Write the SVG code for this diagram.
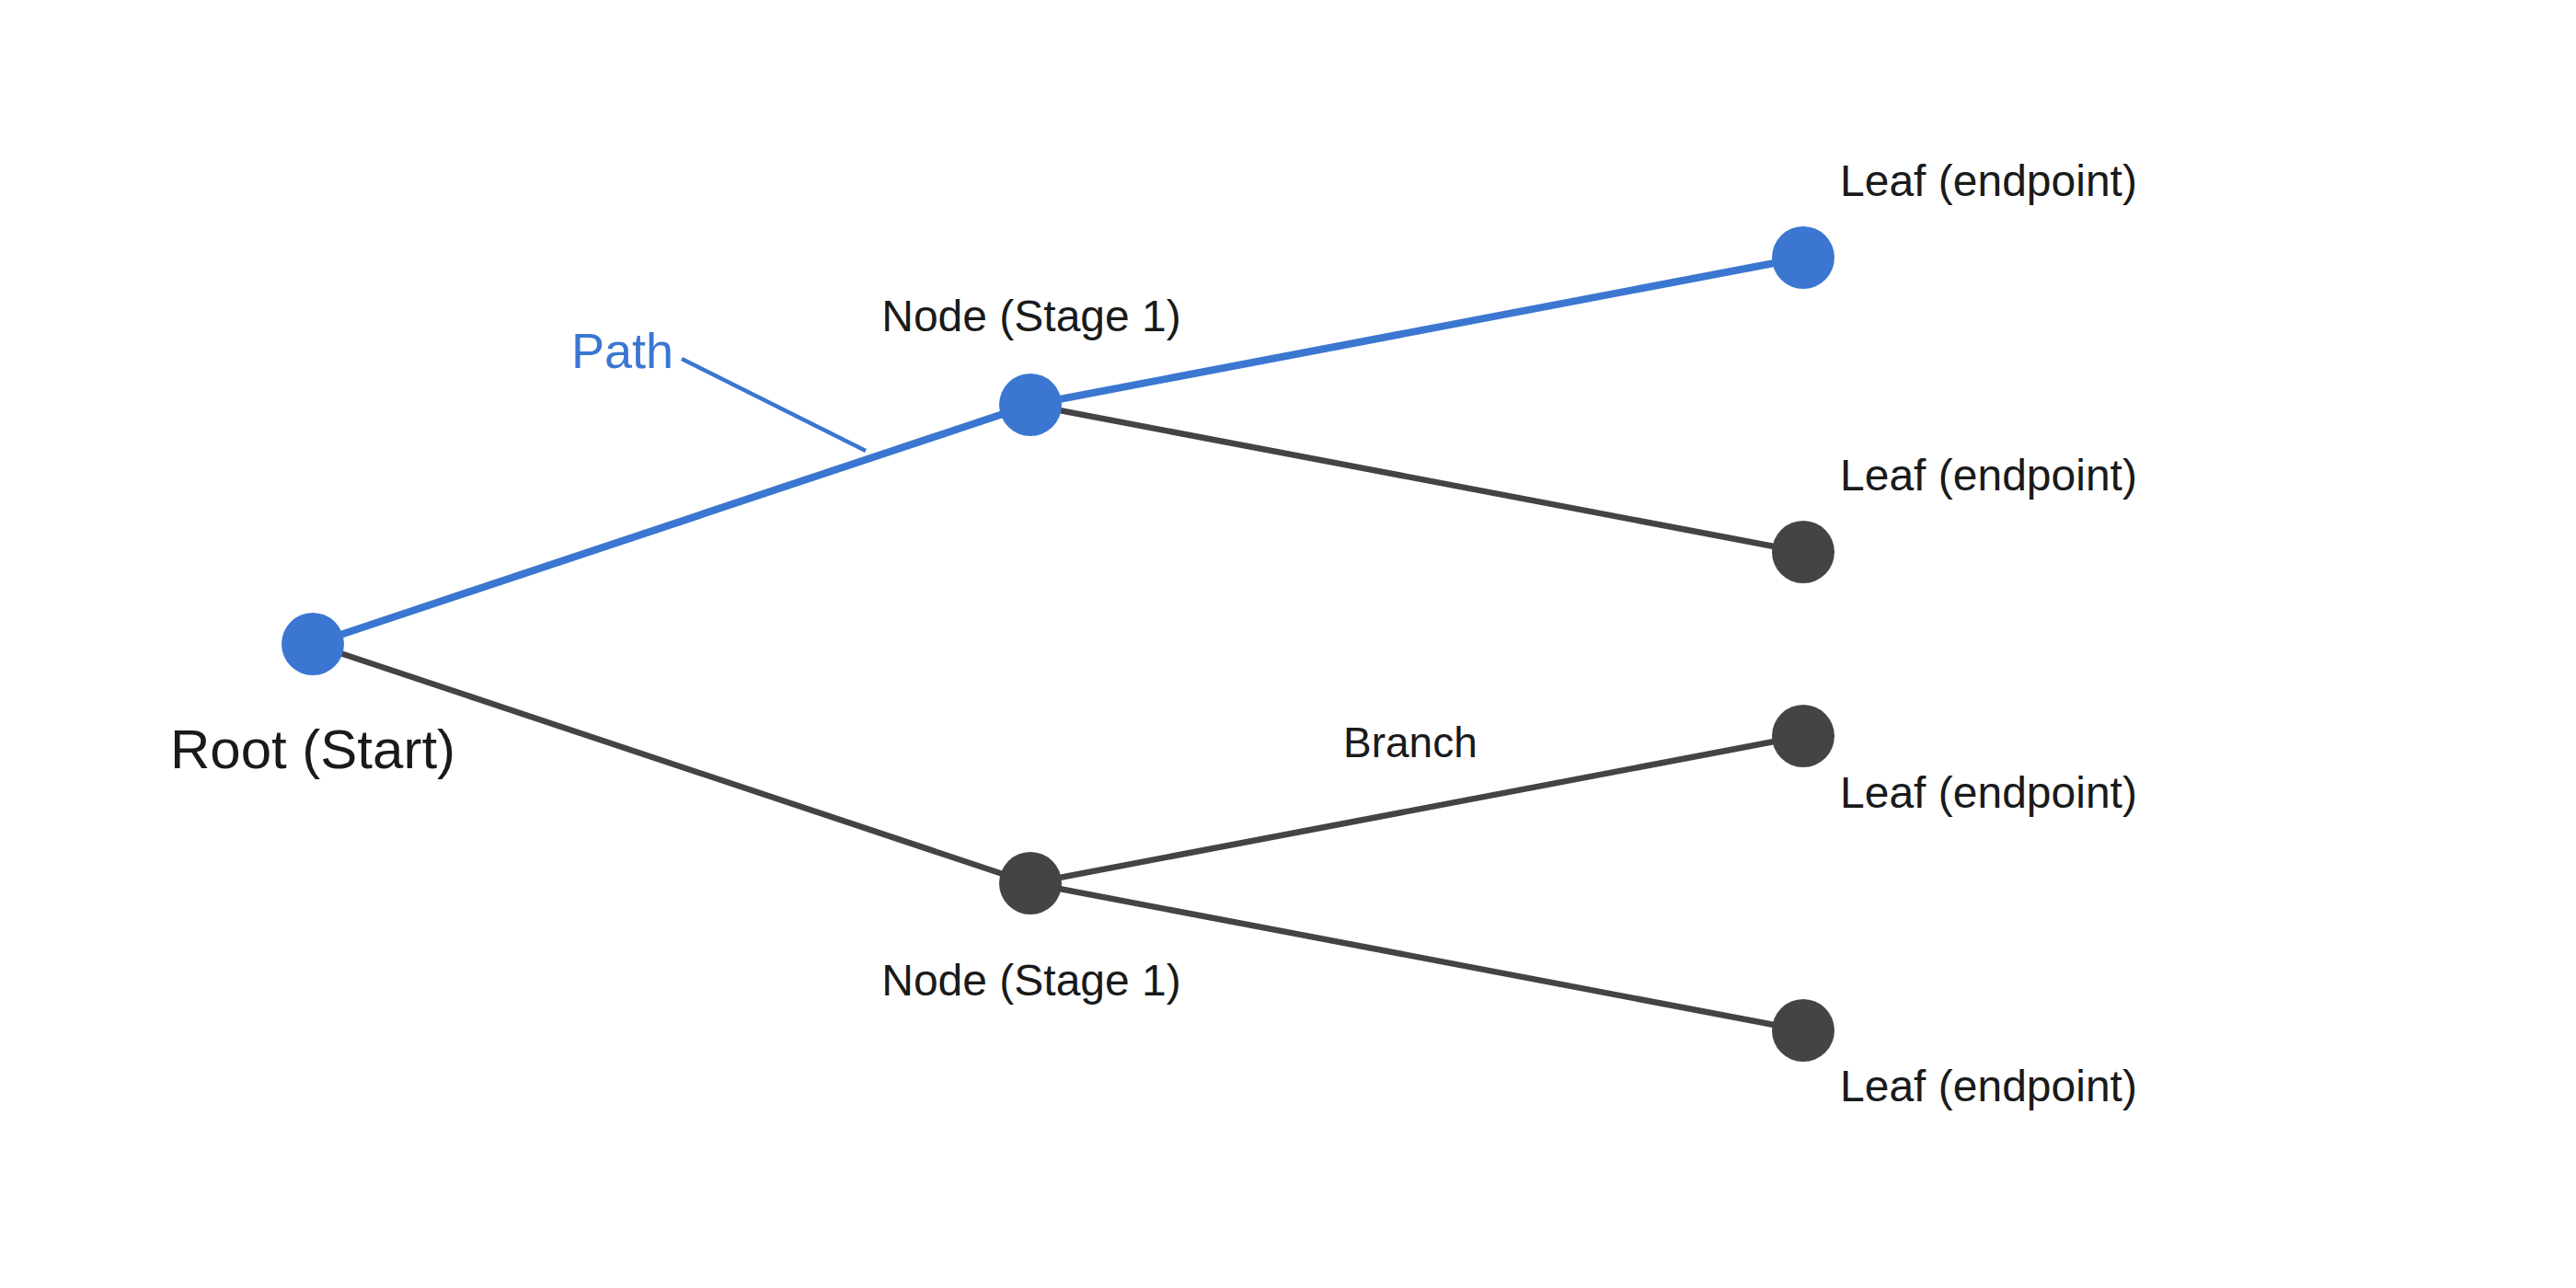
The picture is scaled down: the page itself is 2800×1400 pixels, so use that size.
<svg xmlns="http://www.w3.org/2000/svg" width="2800" height="1400" viewBox="0 0 2800 1400">
<style>
text{font-family:"Liberation Sans",Arial,sans-serif;fill:#1a1a1a}
.lbl{font-size:48px}
.edge{stroke:#444444;stroke-width:6.5;fill:none}
.hl{stroke:#3b77d1;stroke-width:8;fill:none}
.nd{fill:#444444}
.nb{fill:#3b77d1}
</style>
<rect width="2800" height="1400" fill="#ffffff"/>
<g id="connectors">
<line class="edge" x1="340" y1="700" x2="1120" y2="960"/>
<line class="edge" x1="1120" y1="440" x2="1960" y2="600"/>
<line class="edge" x1="1120" y1="960" x2="1960" y2="800"/>
<line class="edge" x1="1120" y1="960" x2="1960" y2="1120"/>
<line class="hl" x1="340" y1="700" x2="1120" y2="440"/>
<line class="hl" x1="1120" y1="440" x2="1960" y2="280"/>
<line id="path-leader" x1="741" y1="390" x2="941" y2="490" stroke="#3b77d1" stroke-width="4.5"/>
<text x="621" y="400" font-size="54" style="fill:#3b77d1">Path</text>
<text x="1460" y="823" font-size="46">Branch</text>
</g>
<g id="root">
<circle class="nb" cx="340" cy="700" r="34"/>
<text x="340" y="835" font-size="60" text-anchor="middle">Root (Start)</text>
</g>
<g id="node-top">
<circle class="nb" cx="1120" cy="440" r="34"/>
<text class="lbl" x="1121" y="360" text-anchor="middle">Node (Stage 1)</text>
</g>
<g id="node-bottom">
<circle class="nd" cx="1120" cy="960" r="34"/>
<text class="lbl" x="1121" y="1082" text-anchor="middle">Node (Stage 1)</text>
</g>
<g id="leaf-1">
<circle class="nb" cx="1960" cy="280" r="34"/>
<text class="lbl" x="2000" y="213">Leaf (endpoint)</text>
</g>
<g id="leaf-2">
<circle class="nd" cx="1960" cy="600" r="34"/>
<text class="lbl" x="2000" y="533">Leaf (endpoint)</text>
</g>
<g id="leaf-3">
<circle class="nd" cx="1960" cy="800" r="34"/>
<text class="lbl" x="2000" y="878">Leaf (endpoint)</text>
</g>
<g id="leaf-4">
<circle class="nd" cx="1960" cy="1120" r="34"/>
<text class="lbl" x="2000" y="1197">Leaf (endpoint)</text>
</g>
</svg>
